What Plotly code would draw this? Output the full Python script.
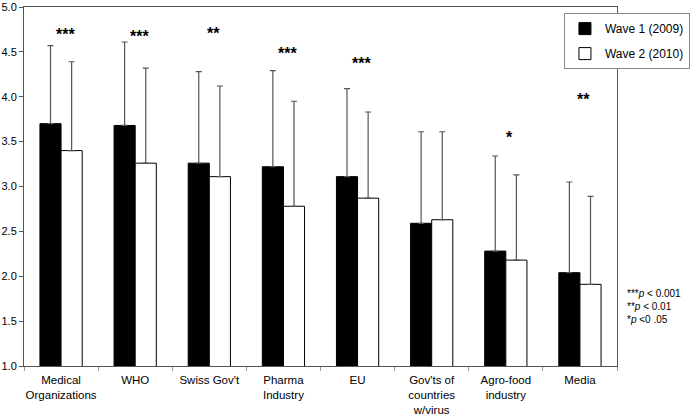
import plotly.graph_objects as go

categories = ["Medical<br>Organizations", "WHO", "Swiss Gov't", "Pharma<br>Industry", "EU",
              "Gov'ts of<br>countries<br>w/virus", "Agro-food<br>industry", "Media"]
wave1 = [3.70, 3.68, 3.26, 3.22, 3.11, 2.59, 2.28, 2.04]
wave1_sd = [0.87, 0.93, 1.02, 1.07, 0.98, 1.02, 1.06, 1.01]
wave2 = [3.40, 3.26, 3.11, 2.78, 2.87, 2.63, 2.18, 1.91]
wave2_sd = [0.99, 1.06, 1.01, 1.17, 0.96, 0.98, 0.95, 0.98]
stars = ["***", "***", "**", "***", "***", "", "*", "**"]
star_y = [4.69, 4.67, 4.70, 4.48, 4.37, None, 3.55, 3.97]
y_ticks = [1.0, 1.5, 2.0, 2.5, 3.0, 3.5, 4.0, 4.5, 5.0]

FONT = "Liberation Sans, Arial, sans-serif"

fig = go.Figure()
fig.add_trace(go.Bar(
    x=categories, y=wave1, name="Wave 1 (2009)", legendgroup="a",
    marker=dict(color="black", line=dict(color="black", width=1)),
    error_y=dict(type="data", array=wave1_sd, symmetric=False, arrayminus=[0]*8,
                 color="#555555", thickness=1.2, width=3),
))
fig.add_trace(go.Bar(
    x=categories, y=wave2, name="Wave 2 (2010)", legendgroup="b",
    marker=dict(color="white", line=dict(color="black", width=1)),
    error_y=dict(type="data", array=wave2_sd, symmetric=False, arrayminus=[0]*8,
                 color="#555555", thickness=1.2, width=3),
))

for c, s, yv in zip(categories, stars, star_y):
    if s:
        fig.add_annotation(x=c, y=yv, text="<b>" + s + "</b>", showarrow=False, xshift=4,
                           font=dict(family=FONT, size=16, color="black"),
                           xref="x", yref="y")

fig.add_annotation(xref="paper", yref="paper", x=1.013, y=0.222, xanchor="left", yanchor="top",
                   align="left", showarrow=False,
                   text="***<i>p</i> < 0.001<br>**<i>p</i> < 0.01<br>*<i>p</i> <0 .05",
                   font=dict(family=FONT, size=10, color="black"))

fig.update_layout(
    width=697, height=419,
    margin=dict(l=24, r=72, t=7, b=53),
    paper_bgcolor="white", plot_bgcolor="white",
    barmode="group", bargap=0.43, bargroupgap=0,
    font=dict(family=FONT, size=12, color="black"),
    legend=dict(x=1.123, y=0.983, xanchor="right", yanchor="top",
                bgcolor="white", bordercolor="#888888", borderwidth=1,
                traceorder="grouped", tracegroupgap=6, itemwidth=30,
                font=dict(family=FONT, size=12, color="black")),
    showlegend=True,
)
fig.update_xaxes(showline=True, linecolor="#555555", linewidth=1, mirror=True,
                 ticks="outside", tickson="boundaries", ticklen=4, tickcolor="#999999",
                 tickfont=dict(family=FONT, size=11.5, color="black"), tickangle=0,
                 ticklabelstandoff=3, automargin=False)
fig.update_yaxes(range=[1.0, 5.0], tickvals=y_ticks, tickformat=".1f",
                 showline=True, linecolor="#555555", linewidth=1, mirror=True,
                 ticks="outside", ticklen=4, tickcolor="#555555", showgrid=False,
                 zeroline=False, tickfont=dict(family=FONT, size=11, color="black"),
                 automargin=False)

fig.write_html("out.html", config={"displayModeBar": False},
               post_script="document.body.style.margin='0';")
